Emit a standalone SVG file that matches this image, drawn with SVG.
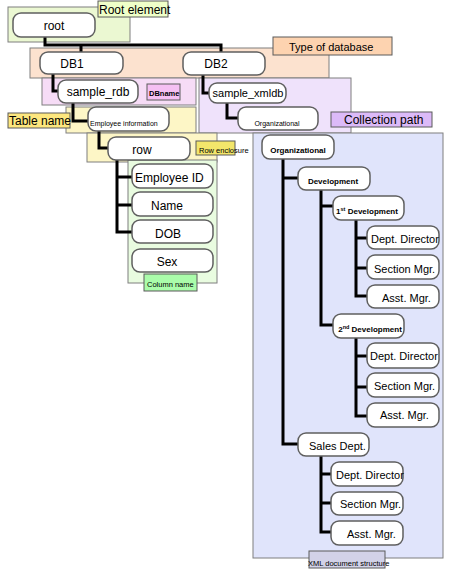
<svg xmlns="http://www.w3.org/2000/svg" width="456" height="573" viewBox="0 0 456 573">
<style>
.reg{stroke:#7f7f7f;stroke-width:1}
.lbl{stroke:#5a5a5a;stroke-width:1}
.node rect{fill:#fff;stroke:#5f5f5f;stroke-width:1.5}
text{font-family:"Liberation Sans",Arial,sans-serif;fill:#000}
.t{font-size:11px}
.tm{font-size:11px;text-anchor:middle}
.s{font-size:7.5px}
.sm{font-size:7.5px;text-anchor:middle}
.conn path{fill:none;stroke:#000;stroke-width:3}
</style>
<rect width="456" height="573" fill="#fff"/>
<g id="regions">
<rect class="reg" x="8" y="7" width="122" height="35" fill="#ebf8d2"/>
<rect class="reg" x="30" y="48" width="299" height="30" fill="#fce2cf"/>
<rect class="reg" x="42" y="78" width="154" height="27" fill="#f6dcf6"/>
<rect class="reg" x="199" y="78" width="152" height="55" fill="#efe2fb"/>
<rect class="reg" x="66" y="107" width="130" height="26" fill="#fdf6c6"/>
<rect class="reg" x="87" y="133" width="130" height="29" fill="#fdf6c6"/>
<rect class="reg" x="128" y="160" width="89" height="123" fill="#e9fce0"/>
<rect class="reg" x="253" y="133" width="190" height="425" fill="#e0e4fb"/>
</g>
<g id="labels">
<g id="lbl-root-element"><rect class="lbl" x="98" y="1" width="70" height="16" fill="#efffc8"/><text class="t" x="99" y="13.5" style="font-size:12px">Root element</text></g>
<g id="lbl-type-db"><rect class="lbl" x="273" y="37" width="119" height="18" fill="#fdd3b0"/><text class="t" x="289" y="51">Type of database</text></g>
<g id="lbl-dbname"><rect class="lbl" x="147" y="84" width="33" height="16" fill="#f5c0f3"/><text class="s" x="149" y="96" style="font-weight:bold">DBname</text></g>
<g id="lbl-collection"><rect class="lbl" x="331" y="112" width="101" height="15" fill="#dcbaf8"/><text class="t" x="344" y="124" style="font-size:12px">Collection path</text></g>
<g id="lbl-table"><rect class="lbl" x="8" y="113" width="62" height="15" fill="#fde77e"/><text class="t" x="9" y="125" style="font-size:12px">Table name</text></g>
<g id="lbl-row"><rect class="lbl" x="196" y="141" width="39" height="14" fill="#f3e66b"/><text class="s" x="199" y="153">Row enclosure</text></g>
<g id="lbl-column"><rect class="lbl" x="144" y="274" width="53" height="17" fill="#aafcaa"/><text class="s" x="147" y="287">Column name</text></g>
<g id="lbl-xml"><rect class="lbl" x="309" y="551" width="76" height="17" fill="#d2d2e8"/><text class="s" x="308" y="566">XML document structure</text></g>
</g>
<g id="connectors" class="conn">
<path d="M45,37V45H221V52M81,45V52"/>
<path d="M53,74V91H58"/>
<path d="M203,75V93H209"/>
<path d="M227,103V118H238"/>
<path d="M73,103V121H88"/>
<path d="M99,131V148H108"/>
<path d="M117,160V232H132M117,177H132M117,205H132"/>
<path d="M283,159V444H298M283,178H298"/>
<path d="M321,190V325H333M321,206H333"/>
<path d="M356,220V296H367M356,238H367M356,268H367"/>
<path d="M356,338V416H367M356,356H367M356,387H367"/>
<path d="M321,456V532H331M321,474H331M321,503H331"/>
</g>
<g id="n-root" class="node"><rect x="13" y="13" width="82" height="24" rx="8"/><text class="tm" x="54" y="30" style="font-size:12px">root</text></g>
<g id="n-db1" class="node"><rect x="40" y="52" width="83" height="22" rx="8"/><text class="tm" x="72" y="68" style="font-size:12px">DB1</text></g>
<g id="n-db2" class="node"><rect x="183" y="52" width="82" height="23" rx="8"/><text class="tm" x="216" y="68" style="font-size:12px">DB2</text></g>
<g id="n-sample-rdb" class="node"><rect x="58" y="80" width="80" height="23" rx="8"/><text class="tm" x="98" y="96" style="font-size:12px">sample_rdb</text></g>
<g id="n-sample-xmldb" class="node"><rect x="209" y="83" width="77" height="20" rx="8"/><text class="tm" x="248" y="97">sample_xmldb</text></g>
<g id="n-org-small" class="node"><rect x="238" y="107" width="80" height="23" rx="8"/><text class="sm" x="277" y="126" style="font-size:7px">Organizational</text></g>
<g id="n-emp-info" class="node"><rect x="88" y="107" width="81" height="24" rx="8"/><text class="s" x="90" y="126" style="font-size:7px">Employee information</text></g>
<g id="n-row" class="node"><rect x="108" y="137" width="82" height="23" rx="8"/><text class="tm" x="142" y="154" style="font-size:12px">row</text></g>
<g id="n-emp-id" class="node"><rect x="132" y="164" width="81" height="24" rx="8"/><text class="t" x="135" y="182" style="font-size:12px">Employee ID</text></g>
<g id="n-name" class="node"><rect x="132" y="192" width="81" height="24" rx="8"/><text class="tm" x="167" y="210" style="font-size:12px">Name</text></g>
<g id="n-dob" class="node"><rect x="132" y="220" width="81" height="23" rx="8"/><text class="tm" x="168" y="238" style="font-size:12px">DOB</text></g>
<g id="n-sex" class="node"><rect x="132" y="249" width="81" height="23" rx="8"/><text class="tm" x="167" y="266" style="font-size:12px">Sex</text></g>
<g id="n-org" class="node"><rect x="262" y="135" width="72" height="24" rx="8"/><text class="sm" x="298" y="153" style="font-size:8px;font-weight:bold">Organizational</text></g>
<g id="n-dev" class="node"><rect x="298" y="167" width="72" height="23" rx="8"/><text class="sm" x="333" y="184" style="font-size:8px;font-weight:bold">Development</text></g>
<g id="n-dev1" class="node"><rect x="333" y="196" width="71" height="24" rx="8"/><text class="sm" x="367" y="214" style="font-size:8px;font-weight:bold">1<tspan dy="-3" style="font-size:5.5px">st</tspan><tspan dy="3"> Development</tspan></text></g>
<g id="n-dev1-dir" class="node"><rect x="367" y="226" width="72" height="23" rx="8"/><text class="t" x="371" y="243">Dept. Director</text></g>
<g id="n-dev1-sec" class="node"><rect x="367" y="255" width="72" height="24" rx="8"/><text class="t" x="374" y="273">Section Mgr.</text></g>
<g id="n-dev1-asst" class="node"><rect x="367" y="285" width="72" height="23" rx="8"/><text class="t" x="382" y="302">Asst. Mgr.</text></g>
<g id="n-dev2" class="node"><rect x="333" y="314" width="71" height="24" rx="8"/><text class="sm" x="370" y="332" style="font-size:8px;font-weight:bold">2<tspan dy="-3" style="font-size:5.5px">nd</tspan><tspan dy="3"> Development</tspan></text></g>
<g id="n-dev2-dir" class="node"><rect x="367" y="343" width="72" height="25" rx="8"/><text class="t" x="370" y="360">Dept. Director</text></g>
<g id="n-dev2-sec" class="node"><rect x="367" y="373" width="72" height="24" rx="8"/><text class="t" x="374" y="390">Section Mgr.</text></g>
<g id="n-dev2-asst" class="node"><rect x="367" y="403" width="72" height="24" rx="8"/><text class="t" x="380" y="419">Asst. Mgr.</text></g>
<g id="n-sales" class="node"><rect x="298" y="433" width="71" height="23" rx="8"/><text class="t" x="309" y="450">Sales Dept.</text></g>
<g id="n-sales-dir" class="node"><rect x="331" y="462" width="72" height="24" rx="8"/><text class="t" x="336" y="479">Dept. Director</text></g>
<g id="n-sales-sec" class="node"><rect x="331" y="492" width="72" height="23" rx="8"/><text class="t" x="340" y="508">Section Mgr.</text></g>
<g id="n-sales-asst" class="node"><rect x="331" y="521" width="72" height="24" rx="8"/><text class="t" x="347" y="538">Asst. Mgr.</text></g>
</svg>
